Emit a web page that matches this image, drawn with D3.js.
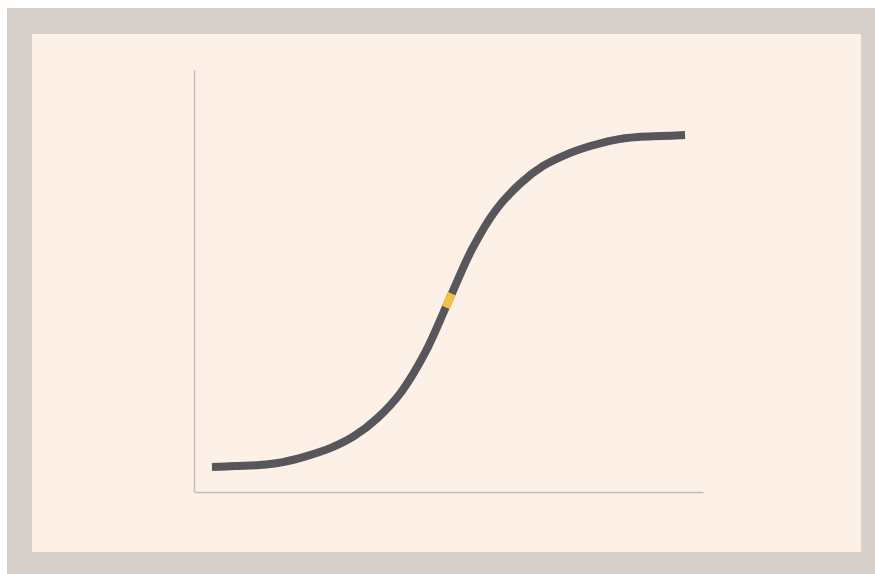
<!DOCTYPE html>
<html>
<head>
<meta charset="utf-8">
<script src="https://cdn.jsdelivr.net/npm/d3@7"></script>
<style>
  html, body { margin: 0; padding: 0; background: #ffffff; }
  svg { display: block; }
</style>
</head>
<body>
<div id="chart"></div>
<script>
// values (unitless 0..100 on both axes)
var xValues = [0, 5, 10, 15, 20, 25, 30, 35, 40, 45, 50, 55, 60, 65, 70, 75, 80, 85, 90, 95, 100];
var yValues = [0, 0.3, 0.6, 1.5, 3.3, 5.7, 9.3, 14.8, 22.6, 34.3, 50, 65.7, 77.4, 85.2, 90.7, 94.2, 96.7, 98.5, 99.4, 99.7, 100];
// the short yellow piece at the turning point
var highlightRange = [49.4, 50.7];
// axis extent
var xDomain = [-3.8, 103.8];
var yDomain = [-7.5, 119.6];

var width = 875, height = 574;
var frame = {left: 7, top: 8};
var panel = {left: 32, top: 34, right: 861, bottom: 552};
var plot = {left: 194, top: 70, right: 703, bottom: 492};

var data = xValues.map(function(x, i) { return {x: x, y: yValues[i]}; });

var svg = d3.select("#chart").append("svg")
    .attr("width", width)
    .attr("height", height);

svg.append("rect")
    .attr("x", frame.left).attr("y", frame.top)
    .attr("width", width - frame.left).attr("height", height - frame.top)
    .style("fill", "#d7cfc9");

svg.append("rect")
    .attr("x", panel.left).attr("y", panel.top)
    .attr("width", panel.right - panel.left).attr("height", panel.bottom - panel.top)
    .style("fill", "#fdf0e7");

var xScale = d3.scaleLinear().domain(xDomain).range([plot.left, plot.right]);
var yScale = d3.scaleLinear().domain(yDomain).range([plot.bottom, plot.top]);

var xAxis = d3.axisBottom(xScale).tickValues([]).tickSizeOuter(0);
var yAxis = d3.axisLeft(yScale).tickValues([]).tickSizeOuter(0);

svg.append("g")
    .attr("class", "x axis")
    .attr("transform", "translate(0," + yScale.range()[0] + ")")
    .call(xAxis);
svg.append("g")
    .attr("class", "y axis")
    .attr("transform", "translate(" + xScale.range()[0] + ",0)")
    .call(yAxis);

svg.selectAll("g.axis path.domain")
    .style("stroke", "#c7bdb4")
    .style("stroke-width", "1.5px")
    .style("fill", "none");

var line = d3.line()
    .x(function(d) { return xScale(d.x); })
    .y(function(d) { return yScale(d.y); })
    .curve(d3.curveCatmullRom.alpha(0.5));

svg.append("path")
    .datum(data)
    .attr("d", line)
    .style("fill", "none")
    .style("stroke", "#57565b")
    .style("stroke-width", 8);

// yellow piece: same path, dashed so only the highlight range shows
var hl = svg.append("path")
    .datum(data)
    .attr("d", line)
    .style("fill", "none")
    .style("stroke", "#f6c143")
    .style("stroke-width", 8);

var node = hl.node();
var total = node.getTotalLength();
var lengthAt = function(px) {
    var lo = 0, hi = total;
    for (var i = 0; i < 40; i++) {
        var mid = (lo + hi) / 2;
        if (node.getPointAtLength(mid).x < px) lo = mid; else hi = mid;
    }
    return lo;
};
var s0 = lengthAt(xScale(highlightRange[0]));
var s1 = lengthAt(xScale(highlightRange[1]));
hl.attr("stroke-dasharray", "0," + s0 + "," + (s1 - s0) + "," + total);
</script>
</body>
</html>
